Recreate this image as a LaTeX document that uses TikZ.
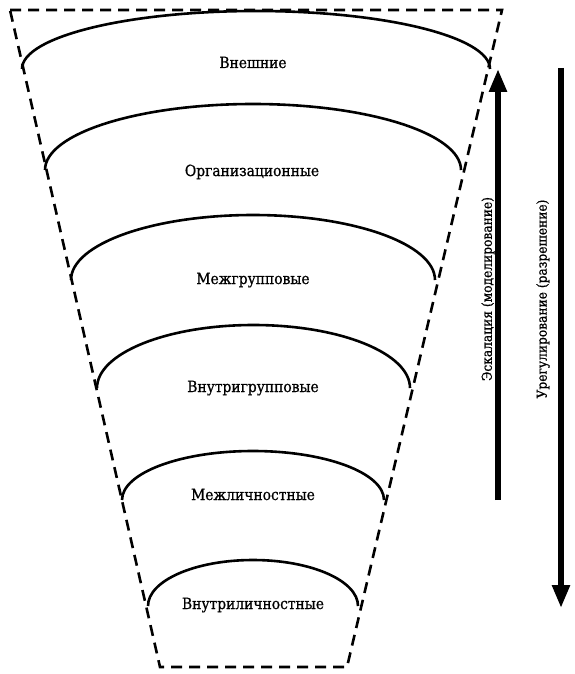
\documentclass[tikz,border=0pt]{standalone}
\usepackage{fontspec}
\setmainfont{DejaVu Serif Condensed}
\newfontfamily\lblfont{DejaVu Serif Condensed}[FakeBold=0.8]
\usetikzlibrary{arrows.meta}
\begin{document}
\begin{tikzpicture}[x=1pt,y=-1pt,
  level/.style={line width=2.6pt},
  funnel/.style={line width=2.6pt,dash pattern=on 11pt off 7pt},
  lbl/.style={font=\lblfont\fontsize{15.4}{18}\selectfont,inner sep=0pt,anchor=base},
  vlbl/.style={font=\lblfont\fontsize{13.6}{16}\selectfont,inner sep=0pt,rotate=90},
  bigarrow/.style={line width=5.5pt,-{Triangle[length=23pt,width=17pt]}}]
\useasboundingbox (0,0) rectangle (575,674);
% funnel
\draw[funnel] (10,10) -- (502,10) -- (347,667) -- (160,667) -- cycle;
% levels
\draw[level] (22,69) arc[start angle=180,end angle=360,x radius=234,y radius=58];
\draw[level] (45,170) arc[start angle=180,end angle=360,x radius=208,y radius=66];
\draw[level] (71,280) arc[start angle=180,end angle=360,x radius=182,y radius=65];
\draw[level] (97,388) arc[start angle=180,end angle=360,x radius=156.5,y radius=63];
\draw[level] (122,500) arc[start angle=180,end angle=360,x radius=131,y radius=49];
\draw[level] (148,606) arc[start angle=180,end angle=360,x radius=105,y radius=46];
% labels
\node[lbl] (ext) at (253,68) {Внешние};
\node[lbl] (org) at (252,176) {Организационные};
\node[lbl] (inter) at (253,284) {Межгрупповые};
\node[lbl] (intra) at (253,392) {Внутригрупповые};
\node[lbl] (pers) at (253,500) {Межличностные};
\node[lbl] (self) at (253,609) {Внутриличностные};
\node[vlbl] (esc) at (488,289) {Эскалация (моделирование)};
\node[vlbl] (res) at (543,299) {Урегулирование (разрешение)};
% arrows
\coordinate (upS) at (498,500);
\coordinate (upE) at (498,69);
\coordinate (dnS) at (561,68);
\coordinate (dnE) at (561,608);
\draw[bigarrow] (upS) -- (upE);
\draw[bigarrow] (dnS) -- (dnE);
\end{tikzpicture}
\end{document}
